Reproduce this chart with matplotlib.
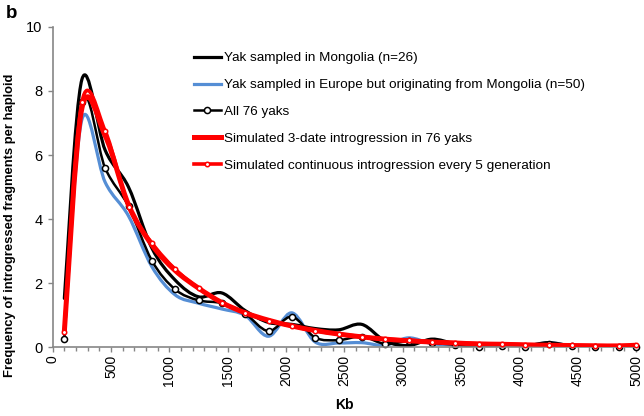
import matplotlib
matplotlib.use("Agg")
import matplotlib.pyplot as plt
import numpy as np
from matplotlib.lines import Line2D
from matplotlib.patches import PathPatch
from matplotlib.path import Path

plt.rcParams["font.family"] = ["Liberation Sans", "DejaVu Sans"]

# fragment length bins (kb)
kb = [100, 250, 450, 650, 850, 1050, 1250, 1450, 1650, 1850, 2050, 2250, 2450,
      2650, 2850, 3050, 3250, 3450, 3650, 3850, 4050, 4250, 4450, 4650, 4850, 5000]

mongolia = [1.53, 8.35, 6.15, 5.0, 3.1, 2.1, 1.58, 1.7, 1.15, 0.78, 0.72, 0.59, 0.55,
            0.72, 0.2, 0.06, 0.26, 0.12, 0.05, 0.08, 0.05, 0.15, 0.05, 0.04, 0.03, 0.03]
europe = [0.4, 7.1, 5.15, 4.1, 2.52, 1.64, 1.38, 1.2, 1.0, 0.35, 1.08, 0.17, 0.14,
          0.15, 0.07, 0.3, 0.12, 0.08, 0.04, 0.05, 0.04, 0.15, 0.05, 0.02, 0.0, 0.0]
all76 = [0.26, 7.64, 5.59, 4.4, 2.71, 1.81, 1.47, 1.38, 1.05, 0.51, 0.96, 0.31, 0.23,
         0.34, 0.11, 0.2, 0.14, 0.09, 0.03, 0.05, 0.03, 0.12, 0.04, 0.02, 0.0, 0.0]
sim_3date = [0.5, 7.45, 6.6, 4.45, 3.2, 2.4, 1.85, 1.4, 1.08, 0.85, 0.67, 0.53, 0.42,
             0.33, 0.26, 0.21, 0.17, 0.14, 0.11, 0.1, 0.08, 0.07, 0.06, 0.05, 0.05, 0.07]
sim_cont = [0.49, 7.64, 6.75, 4.39, 3.26, 2.44, 1.85, 1.40, 1.08, 0.84, 0.67, 0.52, 0.42,
            0.34, 0.26, 0.23, 0.18, 0.15, 0.12, 0.11, 0.09, 0.08, 0.07, 0.06, 0.05, 0.07]

labels = [
    "Yak sampled in Mongolia (n=26)",
    "Yak sampled in Europe but originating from Mongolia (n=50)",
    "All 76 yaks",
    "Simulated 3-date introgression in 76 yaks",
    "Simulated continuous introgression every 5 generation",
]

BLUE = "#558ED5"
RED = "#FF0000"
GRAY = "#868686"


def smooth_path(x, y):
    """Excel-style smoothed line as cubic Bezier segments."""
    pts = np.column_stack([x, y]).astype(float)
    verts = [pts[0]]
    codes = [Path.MOVETO]
    n = len(pts)
    for i in range(n - 1):
        p0 = pts[max(i - 1, 0)]
        p1 = pts[i]
        p2 = pts[i + 1]
        p3 = pts[min(i + 2, n - 1)]
        verts += [p1 + (p2 - p0) / 6.0, p2 - (p3 - p1) / 6.0, p2]
        codes += [Path.CURVE4] * 3
    return Path(verts, codes)


fig = plt.figure(figsize=(6.44, 4.16), dpi=100)
ax = fig.add_axes([0.0818, 0.1647, 0.9058, 0.7711])

series = [
    (mongolia, "black", 2.3, None, 2.0),
    (europe, BLUE, 2.3, None, 1.9),
    (all76, "black", 1.8, "black", 2.2),
    (sim_3date, RED, 3.6, None, 2.4),
    (sim_cont, RED, 2.6, RED, 2.6),
]

handles = []
for (vals, color, lw, medge, z), label in zip(series, labels):
    patch = PathPatch(smooth_path(kb, vals), facecolor="none", edgecolor=color,
                      lw=lw, capstyle="round", joinstyle="round", zorder=z)
    ax.add_patch(patch)
    if medge is not None:
        ms = 4.4 if medge == "black" else 3.2
        ax.plot(kb, vals, "o", ls="none", ms=ms, mfc="white", mec=medge,
                mew=1.1, zorder=z + 0.05, clip_on=False)
        handles.append(Line2D([], [], color=color, lw=lw, marker="o", ms=ms,
                              mfc="white", mec=medge, mew=1.1))
    else:
        handles.append(Line2D([], [], color=color, lw=lw))

ax.set_xlim(0, 5000)
ax.set_ylim(0, 10)
ax.set_xticks(np.arange(0, 5001, 500))
ax.set_xticks(np.arange(0, 5001, 100), minor=True)
ax.set_yticks(np.arange(0, 11, 2))

for side in ["top", "right"]:
    ax.spines[side].set_visible(False)
for side in ["left", "bottom"]:
    ax.spines[side].set_color(GRAY)
    ax.spines[side].set_linewidth(1.2)

ax.tick_params(axis="x", which="major", direction="out", length=3.5, width=1,
               color=GRAY, labelsize=10, labelrotation=90, pad=2)
ax.tick_params(axis="x", which="minor", direction="out", length=3, width=1,
               color=GRAY)
ax.tick_params(axis="y", direction="out", length=3.5, width=1, color=GRAY,
               labelsize=10.5, pad=4)

fig.text(10 / 644, 1 - 225 / 416, "Frequency of introgressed fragments per haploid",
         rotation=90, ha="center", va="center", fontsize=9.4, fontweight="bold")
fig.text(344 / 644, 1 - 405 / 416, "Kb", ha="center", va="center",
         fontsize=10, fontweight="bold")
fig.text(6 / 644, 1 - 14 / 416, "b", ha="left", va="center",
         fontsize=13.5, fontweight="bold")

fig.legend(handles, labels, loc="upper left", bbox_to_anchor=(194 / 644, 1 - 52 / 416),
           frameon=False, fontsize=9.7, handlelength=2.0, handletextpad=0.2,
           labelspacing=1.07, borderpad=0, borderaxespad=0)

fig.savefig("out.png", dpi=100)
